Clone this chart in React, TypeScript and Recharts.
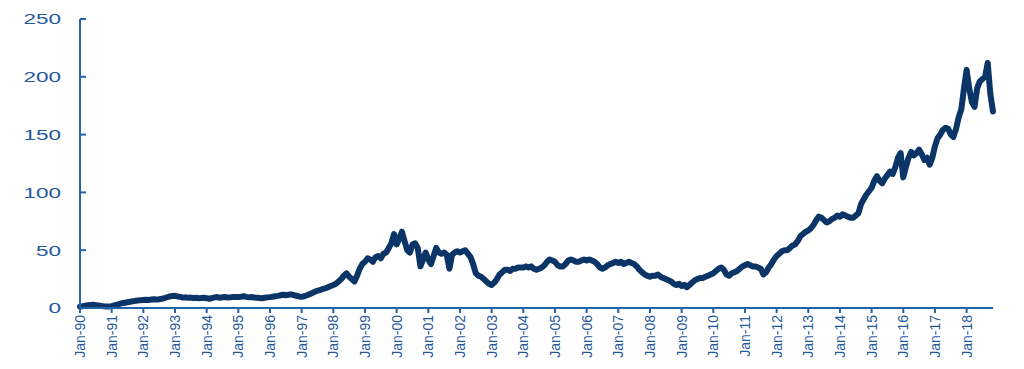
import { LineChart, Line, XAxis, YAxis } from 'recharts'

const months = ['Jan', 'Feb', 'Mar', 'Apr', 'May', 'Jun', 'Jul', 'Aug', 'Sep', 'Oct', 'Nov', 'Dec']
const years = ['90', '91', '92', '93', '94', '95', '96', '97', '98', '99', '00', '01', '02', '03', '04',
  '05', '06', '07', '08', '09', '10', '11', '12', '13', '14', '15', '16', '17', '18']
const yTicks = [0, 50, 100, 150, 200, 250]

// monthly readings, one row per year (Jan..Dec), last year ends in Nov
const prices: number[][] = [
  [1.2, 1.5, 2.0, 2.3, 2.6, 2.8, 2.5, 2.2, 1.8, 1.4, 1.2, 1.3], // 90
  [1.6, 2.2, 2.8, 3.5, 4.2, 4.6, 5.0, 5.4, 5.8, 6.2, 6.5, 6.8], // 91
  [7.0, 7.2, 7.0, 7.3, 7.5, 7.4, 7.6, 8.0, 8.6, 9.3, 10.0, 10.4], // 92
  [10.5, 10.0, 9.6, 9.0, 9.2, 8.8, 9.0, 8.6, 8.8, 8.4, 8.6, 8.8], // 93
  [8.5, 8.0, 8.6, 9.2, 9.5, 8.8, 9.3, 9.6, 9.0, 9.2, 9.6, 9.5], // 94
  [9.5, 9.8, 10.2, 9.6, 9.2, 9.5, 9.0, 8.8, 8.6, 8.4, 8.8, 9.2], // 95
  [9.4, 9.8, 10.2, 10.5, 11.0, 11.5, 11.0, 11.4, 11.8, 11.2, 10.6, 10.0], // 96
  [9.8, 10.2, 11.0, 12.0, 13.0, 14.0, 15.0, 15.5, 16.5, 17.0, 18.0, 19.0], // 97
  [20, 21, 23, 25, 28, 30, 27, 25, 23, 28, 34, 38], // 98
  [40, 43, 42, 40, 44, 45, 43, 47, 48, 52, 56, 64], // 99
  [55, 60, 66, 58, 50, 48, 55, 56, 52, 36, 42, 48], // 00
  [42, 38, 45, 52, 48, 47, 48, 46, 34, 46, 48, 49], // 01
  [48, 49, 50, 47, 44, 38, 30, 28, 27, 25, 23, 21], // 02
  [20, 22, 25, 29, 31, 33, 33, 32, 34, 34, 35, 35], // 03
  [35, 36, 35, 36, 34, 33, 34, 35, 37, 40, 42, 41], // 04
  [40, 37, 36, 36, 38, 41, 42, 41, 40, 40, 41, 42], // 05
  [41, 42, 41, 40, 38, 35, 34, 35, 37, 38, 39, 40], // 06
  [39, 40, 38, 39, 40, 39, 38, 36, 33, 31, 29, 28], // 07
  [27, 28, 28, 29, 27, 26, 25, 24, 23, 21, 20, 21], // 08
  [19, 20, 18, 20, 22, 24, 25, 26, 26, 27, 28, 29], // 09
  [30, 32, 34, 35, 33, 29, 28, 30, 31, 32, 34, 36], // 10
  [37, 38, 37, 36, 36, 35, 34, 29, 31, 35, 38, 42], // 11
  [45, 47, 49, 50, 50, 52, 54, 55, 58, 62, 64, 66], // 12
  [67, 69, 72, 76, 79, 78, 76, 74, 75, 77, 78, 80], // 13
  [79, 81, 80, 79, 78, 78, 80, 82, 90, 94, 98, 101], // 14
  [104, 110, 114, 110, 108, 112, 115, 118, 116, 122, 130, 134], // 15
  [113, 122, 130, 135, 132, 134, 137, 133, 128, 130, 124, 130], // 16
  [140, 147, 150, 154, 156, 155, 150, 148, 155, 165, 172, 190], // 17
  [206, 190, 178, 174, 190, 196, 198, 200, 212, 185, 170], // 18
]

const data = prices.flatMap((row, yi) =>
  row.map((v, mi) => ({ date: `${months[mi]}-${years[yi]}`, value: v }))
)

const AXIS = '#2363aa'
const TEXT = '#1f599c'
const LINE = '#0b3566'
const FONT = '"Liberation Sans", Arial, sans-serif'

function XTick({ x, y, payload }: any) {
  return (
    <text
      transform={`translate(${x},${y}) rotate(-90)`}
      textAnchor="end"
      dy="0.36em"
      fill={TEXT}
      fontSize={14}
      fontFamily={FONT}
    >
      {payload.value}
    </text>
  )
}

function YTick({ x, y, payload }: any) {
  return (
    <text
      transform={`translate(${x},${y}) scale(1.5,1)`}
      textAnchor="end"
      dy="0.36em"
      fill={TEXT}
      fontSize={15}
      fontFamily={FONT}
    >
      {payload.value}
    </text>
  )
}

export default function App() {
  return (
    <div style={{ position: 'absolute', left: 0, top: 0, background: '#fff' }}>
      <LineChart width={1024} height={369} data={data} margin={{ top: 19, right: 31, bottom: 0, left: 0 }}>
        <XAxis
          dataKey="date"
          interval={11}
          height={61}
          stroke={AXIS}
          strokeWidth={2}
          tickSize={5}
          tickMargin={2}
          tick={<XTick />}
        />
        <YAxis
          domain={[0, 250]}
          ticks={yTicks}
          width={80}
          stroke={AXIS}
          strokeWidth={2}
          tickSize={-6}
          tickMargin={25}
          tick={<YTick />}
        />
        <Line
          type="linear"
          dataKey="value"
          stroke={LINE}
          strokeWidth={6}
          strokeLinejoin="round"
          strokeLinecap="round"
          dot={false}
          isAnimationActive={false}
        />
      </LineChart>
    </div>
  )
}
